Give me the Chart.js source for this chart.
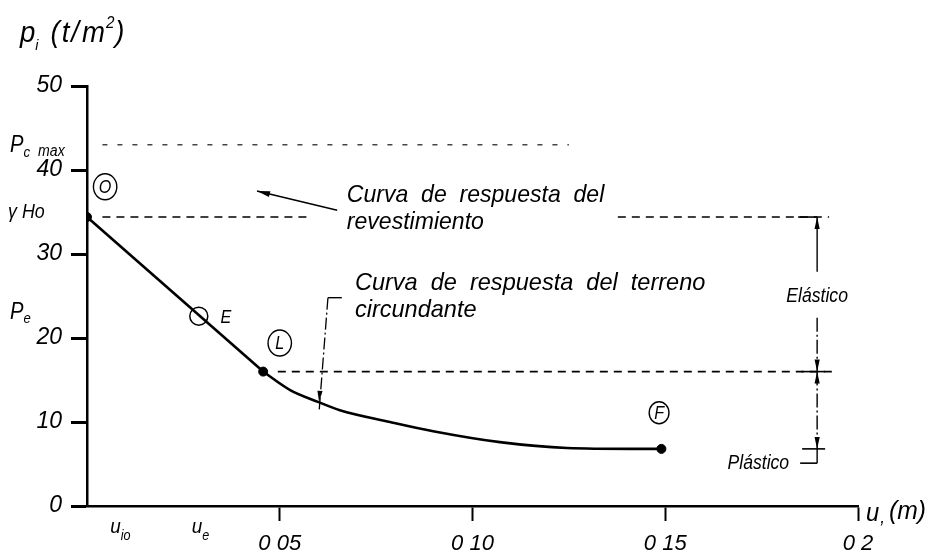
<!DOCTYPE html>
<html>
<head>
<meta charset="utf-8">
<script src="https://cdn.jsdelivr.net/npm/chart.js@4.4.0/dist/chart.umd.min.js"></script>
<style>
  html, body { margin: 0; padding: 0; background: #fff; }
  #wrap { width: 938px; height: 557px; position: relative; }
</style>
</head>
<body>
<div id="wrap"><canvas id="curveChart"></canvas></div>
<script>
// axis ticks
const xTicks = [0.05, 0.10, 0.15, 0.2];
const xTickLabels = ["0 05", "0 10", "0 15", "0 2"];

// ground response curve: elastic part O -> L, plastic part L -> F
const elasticU = [0, 0.0457];
const elasticP = [34.4, 16.0];
const plasticU = [0.0457, 0.0527, 0.0599, 0.0656, 0.0786, 0.0898, 0.1071, 0.1245, 0.1416, 0.149];
const plasticP = [16.0, 13.8, 12.4, 11.4, 10.0, 8.9, 7.6, 6.9, 6.8, 6.8];

// key points O, L, F and point E
const keyU = [0, 0.0457, 0.149];
const keyP = [34.4, 16.0, 6.8];
const pointEU = 0.029;
const pointEP = 22.6;
const pointU0 = 0.0086;

// reference pressures
const pcMax = 43.0;
const gammaHo = 34.4;
const pLimit = 16.0;
const pFinal = 6.8;

// extent of the dashed reference lines
const pcMaxU = [0.004, 0.125];
const gammaHoU = [0.004, 0.058, 0.1377, 0.1925];
const pLimitU = [0.0495, 0.194];
const dimU = 0.1894;

const FONT = "'Liberation Sans', Arial, sans-serif";

function txt(ctx, s, X, Y, size, align = "left", sx = 0.9) {
  ctx.save();
  ctx.font = `italic ${size}px ${FONT}`;
  ctx.textAlign = align;
  ctx.textBaseline = "middle";
  ctx.translate(X, Y);
  ctx.scale(sx, 1);
  ctx.fillText(s, 0, 0);
  ctx.restore();
}

// draw pieces one after another: [text, size, dy, gapAfter]
function run(ctx, pieces, X, Y, sx = 0.9) {
  let cx = X;
  pieces.forEach(([s, size, dy, gap]) => {
    ctx.font = `italic ${size}px ${FONT}`;
    txt(ctx, s, cx, Y + dy, size, "left", sx);
    cx += ctx.measureText(s).width * sx + (gap || 0);
  });
}

function arrow(ctx, X, Y, dx, dy, len = 11, half = 2.8) {
  const n = Math.hypot(dx, dy);
  const ux = dx / n, uy = dy / n;
  ctx.beginPath();
  ctx.moveTo(X, Y);
  ctx.lineTo(X - ux * len - uy * half, Y - uy * len + ux * half);
  ctx.lineTo(X - ux * len + uy * half, Y - uy * len - ux * half);
  ctx.closePath();
  ctx.fill();
}

function line(ctx, x1, y1, x2, y2, w = 1.5) {
  ctx.lineWidth = w;
  ctx.beginPath();
  ctx.moveTo(x1, y1);
  ctx.lineTo(x2, y2);
  ctx.stroke();
}

const annotations = {
  id: "annotations",
  afterDraw(chart) {
    const { ctx, scales: { x, y } } = chart;
    const px = v => x.getPixelForValue(v);
    const py = v => y.getPixelForValue(v);
    ctx.save();
    ctx.fillStyle = "#000";
    ctx.strokeStyle = "#000";

    // axis titles
    run(ctx, [["p", 29, 0, 0], ["i", 15, 12, 12], ["(", 29, 0, 2], ["t", 29, 0, 2], ["/", 29, 0, 3],
              ["m", 29, 0, 1], ["2", 16, -10, 1], [")", 29, 0, 0]], 20, 34, 0.95);
    run(ctx, [["u", 25, 2, 1], [",", 18, 6, 4], ["(m)", 26, 0, 0]], 866, 512, 0.95);

    // left labels
    run(ctx, [["P", 23, 0, 0], ["c", 15, 7, 8], ["max", 16, 6, 0]], 10, py(pcMax) + 1, 0.88);
    txt(ctx, "\u03b3 Ho", 8, py(gammaHo) - 5, 21, "left", 0.85);
    run(ctx, [["P", 23, 0, 0], ["e", 15, 7, 0]], 10, py(pointEP) - 4, 0.88);

    // bottom labels u_io, u_e
    run(ctx, [["u", 21, 0, 0], ["io", 14, 9, 0]], px(pointU0) - 10, 527, 0.9);
    run(ctx, [["u", 21, 0, 0], ["e", 14, 9, 0]], px(pointEU) - 7, 527, 0.9);

    // circled letters
    const circled = [["O", 0.0047, 38.0, 13], ["L", 0.050, 19.4, 13], ["F", 0.1484, 11.1, 11]];
    circled.forEach(([s, u, p, r]) => {
      ctx.lineWidth = 1.4;
      ctx.beginPath();
      ctx.ellipse(px(u), py(p), r * 0.9, r, 0, 0, Math.PI * 2);
      ctx.stroke();
      txt(ctx, s, px(u), py(p) + 1, 19, "center", 0.85);
    });
    txt(ctx, "E", px(pointEU) + 27, py(pointEP) + 2, 19, "center", 0.85);

    // curve of lining response
    const ax = px(0.0441), ay = py(37.5), bx = px(0.0649), by = py(35.2);
    line(ctx, bx, by, ax, ay, 1.6);
    arrow(ctx, ax, ay, ax - bx, ay - by, 13, 3);
    txt(ctx, "Curva  de  respuesta  del", px(0.0674), py(37.0), 24, "left", 0.96);
    txt(ctx, "revestimiento", px(0.0674), py(33.8), 24, "left", 0.96);

    // curve of ground response
    const lx = px(0.0625), ly = py(24.8), tx = px(0.0602), ty = py(12.4);
    line(ctx, px(0.0661), ly, lx, ly, 1.4);
    ctx.setLineDash([12, 3, 2, 3]);
    line(ctx, lx, ly, tx, ty + 10, 1.3);
    ctx.setLineDash([]);
    arrow(ctx, tx, ty, tx - lx, ty - ly, 11, 2.6);
    txt(ctx, "Curva  de  respuesta  del  terreno", px(0.0695), py(26.5), 24, "left", 0.98);
    txt(ctx, "circundante", px(0.0695), py(23.3), 24, "left", 0.98);

    // dimension line Elástico / Plástico
    const dx = px(dimU);
    line(ctx, dx - 19, py(gammaHo), dx, py(gammaHo), 1.6);
    line(ctx, dx, py(gammaHo), dx, py(27.9), 1.4);
    ctx.setLineDash([14, 3, 2, 3]);
    line(ctx, dx, py(22.4), dx, py(pLimit), 1.4);
    line(ctx, dx, py(pLimit), dx, py(pFinal), 1.4);
    ctx.setLineDash([]);
    line(ctx, dx, py(pFinal), dx, py(5.1), 1.4);
    line(ctx, dx - 16, py(pLimit), dx + 8, py(pLimit), 1.6);
    line(ctx, dx - 15, py(pFinal), dx + 8, py(pFinal), 1.6);
    line(ctx, dx - 17, py(5.1), dx, py(5.1), 1.6);
    arrow(ctx, dx, py(gammaHo), 0, -1, 12, 2.6);
    arrow(ctx, dx, py(pLimit), 0, 1, 12, 2.6);
    arrow(ctx, dx, py(pLimit), 0, -1, 12, 2.6);
    arrow(ctx, dx, py(pFinal), 0, 1, 12, 2.6);
    txt(ctx, "El\u00e1stico", dx, py(25.0), 20, "center", 0.88);
    txt(ctx, "Pl\u00e1stico", dx - 28, py(5.1), 20, "right", 0.88);

    ctx.restore();
  }
};

const toXY = (us, ps) => us.map((u, i) => ({ x: u, y: ps[i] }));
const levelLine = (us, p) => us.map(u => ({ x: u, y: p }));

const ctx = document.getElementById("curveChart").getContext("2d");

new Chart(ctx, {
  type: "scatter",
  data: {
    datasets: [
      {
        data: toXY(elasticU, elasticP),
        showLine: true, borderColor: "#000", borderWidth: 2.6, pointRadius: 0, tension: 0
      },
      {
        data: toXY(plasticU, plasticP),
        showLine: true, borderColor: "#000", borderWidth: 2.6, pointRadius: 0,
        cubicInterpolationMode: "monotone"
      },
      {
        data: toXY(keyU, keyP),
        showLine: false, pointRadius: 4.5, pointBackgroundColor: "#000", pointBorderColor: "#000"
      },
      {
        data: [{ x: pointEU, y: pointEP }],
        showLine: false, pointRadius: 9, pointBackgroundColor: "rgba(0,0,0,0)",
        pointBorderColor: "#000", pointBorderWidth: 1.5
      },
      {
        data: levelLine(pcMaxU, pcMax),
        showLine: true, borderColor: "#444", borderWidth: 1.4, borderDash: [5, 10], pointRadius: 0
      },
      {
        data: [
          { x: gammaHoU[0], y: gammaHo }, { x: gammaHoU[1], y: gammaHo },
          { x: (gammaHoU[1] + gammaHoU[2]) / 2, y: null },
          { x: gammaHoU[2], y: gammaHo }, { x: gammaHoU[3], y: gammaHo }
        ],
        showLine: true, spanGaps: false, borderColor: "#000", borderWidth: 1.6,
        borderDash: [8, 6], pointRadius: 0
      },
      {
        data: levelLine(pLimitU, pLimit),
        showLine: true, borderColor: "#000", borderWidth: 1.6, borderDash: [8, 6], pointRadius: 0
      }
    ]
  },
  options: {
    responsive: true,
    maintainAspectRatio: false,
    animation: false,
    layout: { padding: { top: 86, right: 80, left: 0, bottom: 0 } },
    plugins: { legend: { display: false }, tooltip: { enabled: false } },
    scales: {
      x: {
        type: "linear",
        min: 0,
        max: 0.2,
        afterFit: scale => { scale.height = 51; },
        afterBuildTicks: scale => { scale.ticks = xTicks.map(v => ({ value: v })); },
        ticks: {
          autoSkip: false,
          maxRotation: 0,
          padding: 10,
          color: "#000",
          font: { family: FONT, size: 22, style: "italic" },
          callback: (v, i) => xTickLabels[i]
        },
        grid: { drawOnChartArea: false, tickLength: 15, tickWidth: 2, tickColor: "#000" },
        border: { display: true, color: "#000", width: 2.5 }
      },
      y: {
        type: "linear",
        min: 0,
        max: 50,
        afterFit: scale => { scale.width = 87; },
        ticks: {
          stepSize: 10,
          padding: 9,
          color: "#000",
          font: { family: FONT, size: 23, style: "italic" }
        },
        grid: { drawOnChartArea: false, tickLength: 16, tickWidth: 3, tickColor: "#000" },
        border: { display: true, color: "#000", width: 2.5 }
      }
    }
  },
  plugins: [annotations]
});
</script>
</body>
</html>
